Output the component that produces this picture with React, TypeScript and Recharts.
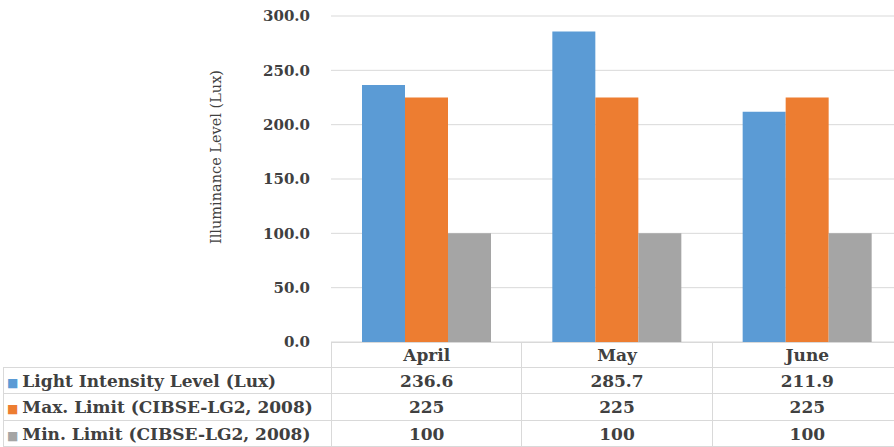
import { BarChart, Bar, XAxis, YAxis, CartesianGrid, Label } from 'recharts';

const months = ['April', 'May', 'June'];
const lightIntensity = [236.6, 285.7, 211.9];
const maxLimit = [225, 225, 225];
const minLimit = [100, 100, 100];
const yTicks = [0, 50, 100, 150, 200, 250, 300];

const series = [
  { key: 'light', name: 'Light Intensity Level (Lux)', values: lightIntensity, color: '#5b9bd5', digits: 1 },
  { key: 'max', name: 'Max. Limit (CIBSE-LG2, 2008)', values: maxLimit, color: '#ed7d31', digits: 0 },
  { key: 'min', name: 'Min. Limit (CIBSE-LG2, 2008)', values: minLimit, color: '#a5a5a5', digits: 0 },
];

const data = months.map((month, i) => ({
  month,
  light: lightIntensity[i],
  max: maxLimit[i],
  min: minLimit[i],
}));

const SERIF = '"DejaVu Serif", "Liberation Serif", serif';
const TEXT = '#404040';
const GRID = '#d9d9d9';
const CHART_W = 902;
const AXIS_W = 331;
const PLOT_TOP = 16;
const PLOT_BOTTOM = 342;
const BAND = (CHART_W - AXIS_W) / months.length;
const ROW_H = [25, 26, 27, 26];

function YTitle() {
  return (
    <text
      x={216}
      y={157}
      transform="rotate(-90 216 157)"
      textAnchor="middle"
      dominantBaseline="central"
      style={{ fontFamily: SERIF, fontSize: 14.5, fill: TEXT }}
    >
      Illuminance Level (Lux)
    </text>
  );
}

function DataTable() {
  const cell = {
    border: `1px solid ${GRID}`,
    padding: 0,
    fontFamily: SERIF,
    fontWeight: 'bold' as const,
    fontSize: 17,
    color: TEXT,
    textAlign: 'center' as const,
    whiteSpace: 'nowrap' as const,
    overflow: 'hidden',
  };
  return (
    <table
      style={{
        position: 'absolute',
        left: 3,
        top: PLOT_BOTTOM,
        borderCollapse: 'collapse',
        tableLayout: 'fixed',
        width: AXIS_W - 3 + BAND * months.length,
      }}
    >
      <colgroup>
        <col style={{ width: AXIS_W - 3 }} />
        {months.map((m) => (
          <col key={m} style={{ width: BAND }} />
        ))}
      </colgroup>
      <tbody>
        <tr style={{ height: ROW_H[0] }}>
          <td style={{ ...cell, border: 'none', borderRight: `1px solid ${GRID}`, borderBottom: `1px solid ${GRID}` }} />
          {months.map((m) => (
            <td key={m} style={cell}>{m}</td>
          ))}
        </tr>
        {series.map((s, r) => (
          <tr key={s.key} style={{ height: ROW_H[r + 1] }}>
            <td style={{ ...cell, textAlign: 'left', paddingLeft: 3 }}>
              <span style={{ color: s.color, fontSize: 12, marginRight: 4 }}>■</span>
              {s.name}
            </td>
            {s.values.map((v, i) => (
              <td key={i} style={cell}>{v.toFixed(s.digits)}</td>
            ))}
          </tr>
        ))}
      </tbody>
    </table>
  );
}

export default function App() {
  return (
    <div
      style={{
        position: 'fixed',
        left: 0,
        top: 0,
        width: 894,
        height: 447,
        overflow: 'hidden',
        background: '#fff',
      }}
    >
      <BarChart
        width={CHART_W}
        height={PLOT_BOTTOM + 8}
        data={data}
        margin={{ top: PLOT_TOP, right: 0, bottom: 8, left: 0 }}
        barGap={0}
        barCategoryGap={31}
      >
        <CartesianGrid vertical={false} stroke={GRID} />
        <XAxis dataKey="month" hide />
        <YAxis
          width={AXIS_W}
          domain={[0, 300]}
          ticks={yTicks}
          interval={0}
          tickFormatter={(v: number) => v.toFixed(1)}
          axisLine={false}
          tickLine={false}
          tickSize={0}
          tickMargin={21}
          tick={{ fontFamily: SERIF, fontWeight: 'bold', fontSize: 15, fill: TEXT }}
        >
          <Label content={<YTitle />} />
        </YAxis>
        {series.map((s) => (
          <Bar key={s.key} dataKey={s.key} name={s.name} fill={s.color} isAnimationActive={false} />
        ))}
      </BarChart>
      <DataTable />
    </div>
  );
}
